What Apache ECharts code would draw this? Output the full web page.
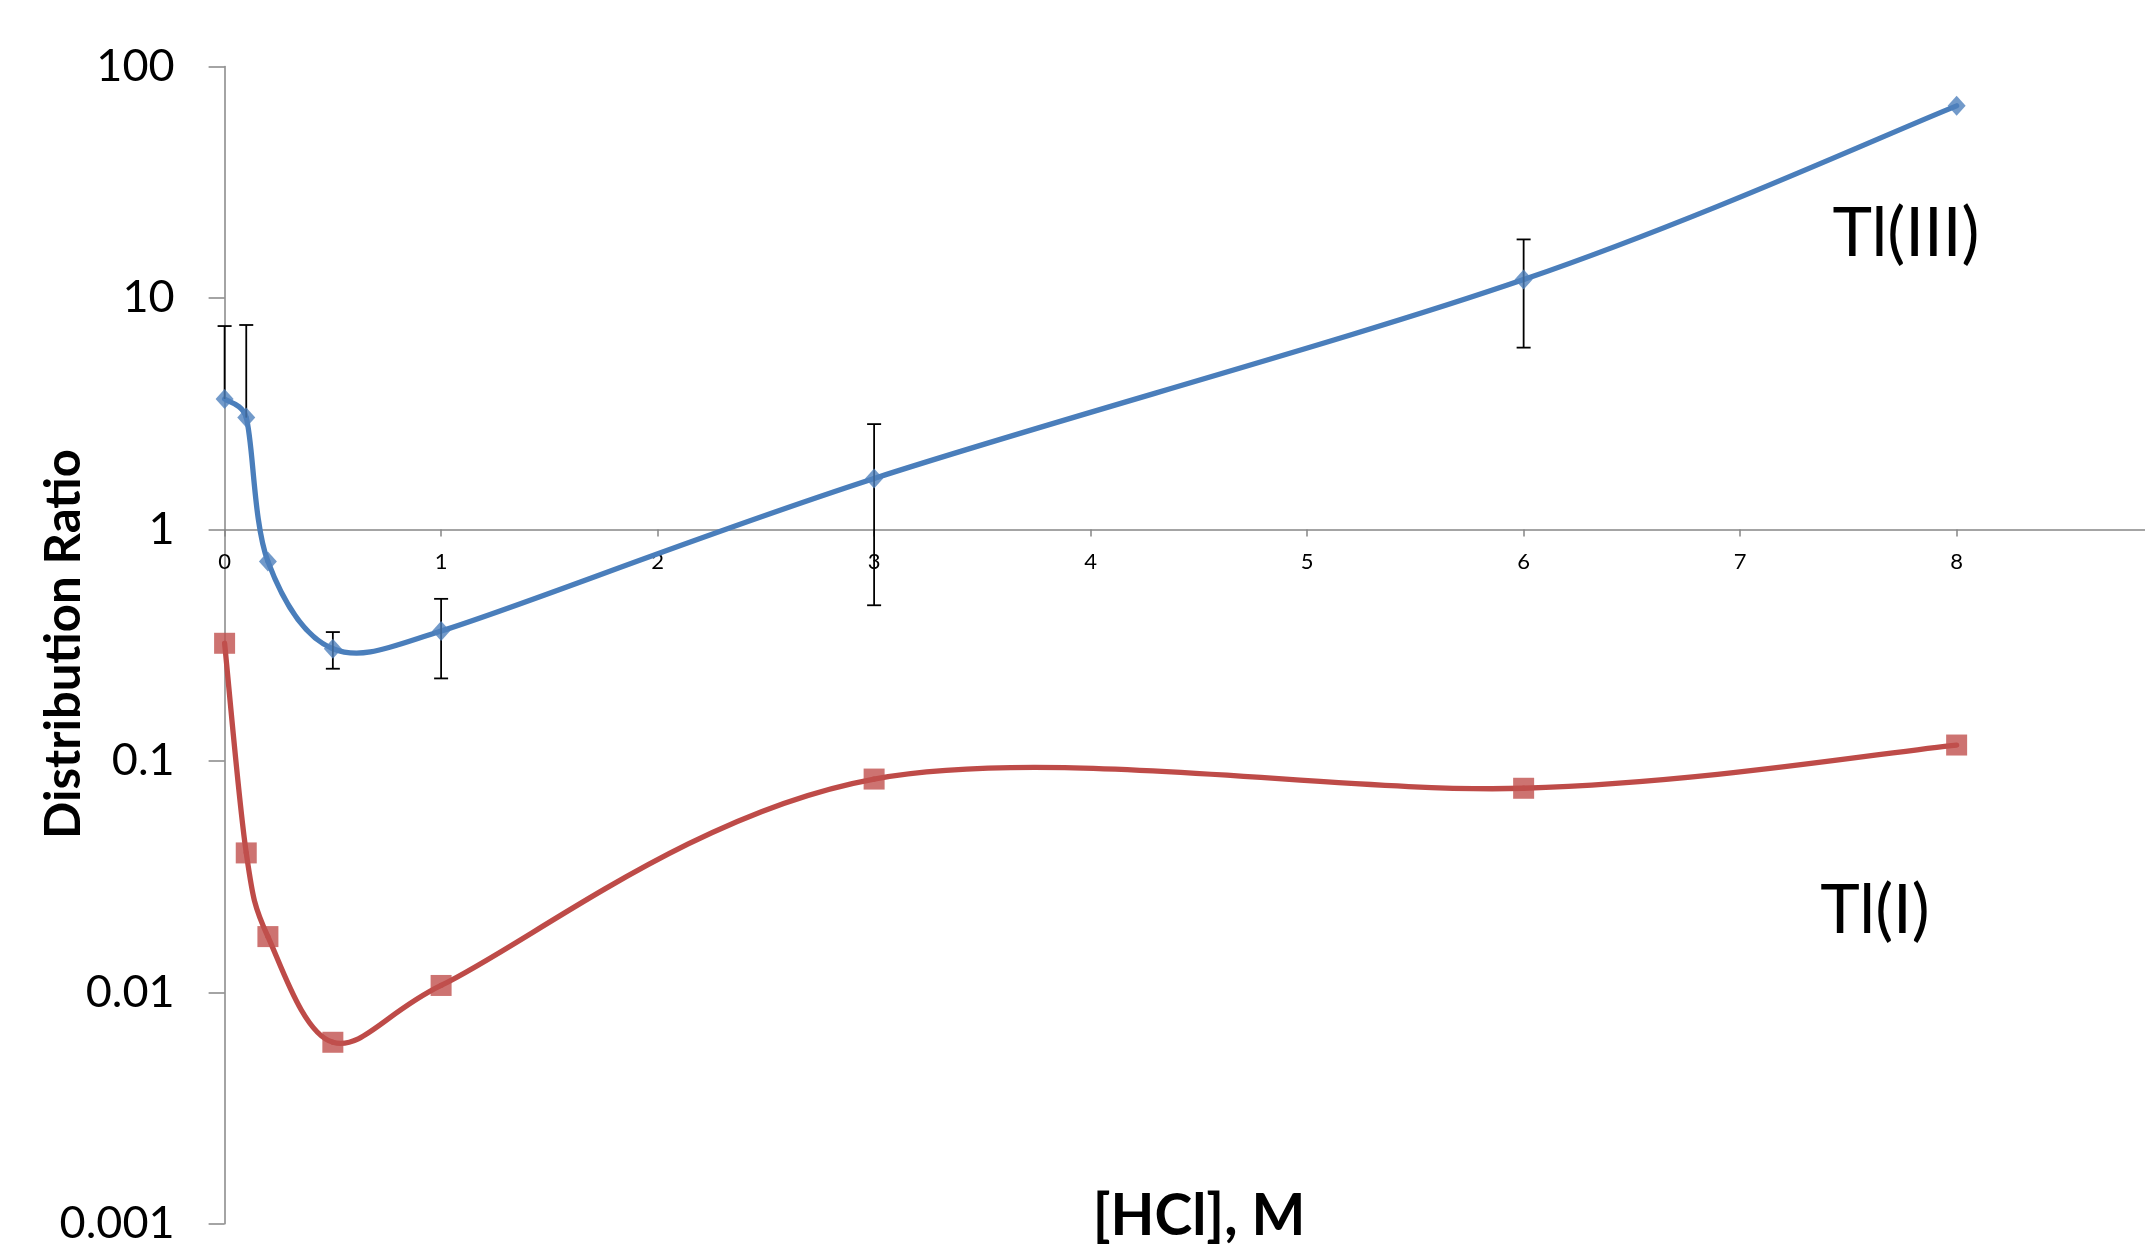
<!DOCTYPE html>
<html>
<head>
<meta charset="utf-8">
<title>Distribution Ratio vs [HCl]</title>
<script src="https://cdn.jsdelivr.net/npm/echarts@6/dist/echarts.min.js"></script>
<style>
  html, body { margin: 0; padding: 0; background: #fff; }
  #chart { width: 2145px; height: 1252px; }
</style>
</head>
<body>
<div id="chart"></div>
<script>
  // data
  const hcl = [0, 0.1, 0.2, 0.5, 1, 3, 6, 8]
  const tl3 = [3.66, 3.04, 0.727, 0.305, 0.364, 1.66, 12.0, 67.6]
  const tl3Err = [3.9, 4.6, 0, 0.055, 0.137, 1.19, 5.9, 0]
  const tl1 = [0.322, 0.040, 0.0174, 0.00608, 0.0107, 0.0834, 0.0761, 0.117]
  const xTicks = [0, 1, 2, 3, 4, 5, 6, 7, 8]
  const yTicks = [0.001, 0.01, 0.1, 1, 10, 100]

  const blue = '#4A7EBB'
  const blueMark = '#4F81BD'
  const red = '#BE4B48'
  const redMark = '#C0504D'
  const axisGray = '#868686'

  const chart = echarts.init(document.getElementById('chart'))

  function dist (a, b) {
    return Math.sqrt((a[0] - b[0]) * (a[0] - b[0]) + (a[1] - b[1]) * (a[1] - b[1]))
  }

  // excel-like smoothed line: one bezier segment per point,
  // tangent (next - prev) / 6, capped at half the segment length
  function curveItem (ys, color) {
    return function (params, api) {
      const i = params.dataIndex
      const n = hcl.length
      if (i >= n - 1) return null
      const pt = k => {
        const j = Math.max(0, Math.min(n - 1, k))
        return api.coord([hcl[j], ys[j]])
      }
      const p0 = pt(i - 1)
      const p1 = pt(i)
      const p2 = pt(i + 1)
      const p3 = pt(i + 2)
      const d12 = dist(p1, p2)
      const d02 = dist(p0, p2)
      const d13 = dist(p1, p3)
      const f = d02 > 0 ? Math.min(1 / 6, d12 / (2 * d02)) : 0
      const g = d13 > 0 ? Math.min(1 / 6, d12 / (2 * d13)) : 0
      return {
        type: 'bezierCurve',
        shape: {
          x1: p1[0], y1: p1[1],
          x2: p2[0], y2: p2[1],
          cpx1: p1[0] + (p2[0] - p0[0]) * f,
          cpy1: p1[1] + (p2[1] - p0[1]) * f,
          cpx2: p2[0] - (p3[0] - p1[0]) * g,
          cpy2: p2[1] - (p3[1] - p1[1]) * g
        },
        style: { stroke: color, lineWidth: 5.3, fill: 'none', lineCap: 'round' }
      }
    }
  }

  function errorItem (params, api) {
    const i = params.dataIndex
    const e = tl3Err[i]
    if (!e) return null
    const x = hcl[i]
    const y = tl3[i]
    const top = api.coord([x, y + e])
    const hasLow = y - e > 0
    const low = hasLow ? api.coord([x, y - e]) : api.coord([x, y])
    const style = { stroke: '#000', lineWidth: 1.8 }
    const children = [
      { type: 'line', shape: { x1: top[0], y1: top[1], x2: low[0], y2: low[1] }, style: style },
      { type: 'line', shape: { x1: top[0] - 7, y1: top[1], x2: top[0] + 7, y2: top[1] }, style: style }
    ]
    if (hasLow) {
      children.push({ type: 'line', shape: { x1: low[0] - 7, y1: low[1], x2: low[0] + 7, y2: low[1] }, style: style })
    }
    return { type: 'group', children: children }
  }

  const tl3Data = hcl.map((x, i) => [x, tl3[i]])
  const tl1Data = hcl.map((x, i) => [x, tl1[i]])

  const option = {
    backgroundColor: '#fff',
    animation: false,
    grid: {
      left: 224.6,
      top: 66.5,
      right: 0,
      bottom: 28.3
    },
    xAxis: {
      type: 'value',
      min: 0,
      max: 8.87,
      interval: 1,
      offset: -694.3,
      splitLine: { show: false },
      axisLine: { lineStyle: { color: axisGray, width: 1.5 } },
      axisTick: { length: 7, lineStyle: { color: axisGray, width: 1.5 } },
      axisLabel: {
        margin: 22,
        color: '#000',
        fontFamily: 'Lato',
        fontSize: 22,
        showMaxLabel: false,
        formatter: v => (xTicks.indexOf(v) >= 0 ? String(v) : '')
      }
    },
    yAxis: {
      type: 'log',
      logBase: 10,
      min: yTicks[0],
      max: yTicks[yTicks.length - 1],
      splitLine: { show: false },
      axisLine: { show: true, lineStyle: { color: axisGray, width: 1.5 } },
      axisTick: { show: true, length: 16, lineStyle: { color: axisGray, width: 1.5 } },
      axisLabel: {
        margin: 50,
        color: '#000',
        fontFamily: 'Lato',
        fontSize: 45,
        formatter: v => String(+(+v).toPrecision(1))
      }
    },
    graphic: [
      {
        type: 'text',
        x: 64,
        y: 644,
        rotation: Math.PI / 2,
        style: {
          text: 'Distribution Ratio',
          fontFamily: 'Lato',
          fontWeight: 'bold',
          fontSize: 49,
          fill: '#000',
          align: 'center',
          verticalAlign: 'middle'
        }
      },
      {
        type: 'text',
        x: 1199,
        y: 1217,
        style: {
          text: '[HCl], M',
          fontFamily: 'Lato',
          fontWeight: 'bold',
          fontSize: 57,
          fill: '#000',
          align: 'center',
          verticalAlign: 'middle'
        }
      },
      {
        type: 'text',
        x: 1906,
        y: 234,
        style: {
          text: 'Tl(III)',
          fontFamily: 'Lato',
          fontSize: 67,
          fill: '#000',
          align: 'center',
          verticalAlign: 'middle'
        }
      },
      {
        type: 'text',
        x: 1875,
        y: 911,
        style: {
          text: 'Tl(I)',
          fontFamily: 'Lato',
          fontSize: 67,
          fill: '#000',
          align: 'center',
          verticalAlign: 'middle'
        }
      }
    ],
    series: [
      {
        name: 'Tl(III) line',
        type: 'custom',
        renderItem: curveItem(tl3, blue),
        data: tl3Data,
        encode: { x: 0, y: 1 },
        z: 2
      },
      {
        name: 'Tl(I) line',
        type: 'custom',
        renderItem: curveItem(tl1, red),
        data: tl1Data,
        encode: { x: 0, y: 1 },
        z: 2
      },
      {
        name: 'Tl(III) error',
        type: 'custom',
        renderItem: errorItem,
        data: tl3Data,
        encode: { x: 0, y: 1 },
        z: 3
      },
      {
        name: 'Tl(III)',
        type: 'scatter',
        symbol: 'diamond',
        symbolSize: [18, 20],
        itemStyle: { color: blueMark },
        data: tl3Data,
        z: 4
      },
      {
        name: 'Tl(I)',
        type: 'scatter',
        symbol: 'rect',
        symbolSize: [21, 21],
        itemStyle: { color: redMark },
        data: tl1Data,
        z: 4
      }
    ]
  }

  chart.setOption(option)
</script>
</body>
</html>
